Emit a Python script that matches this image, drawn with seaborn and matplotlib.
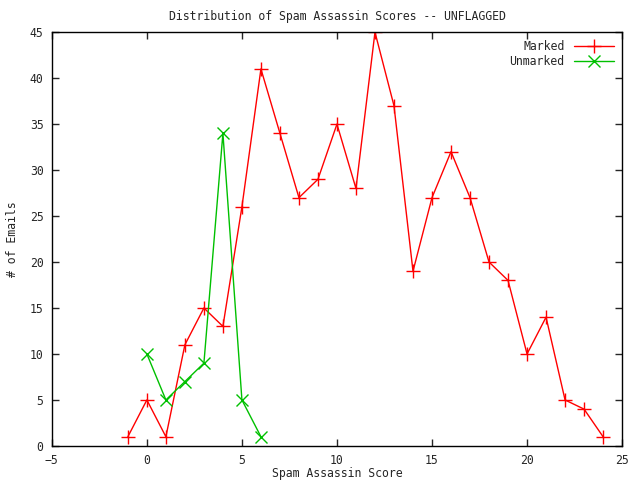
import matplotlib
matplotlib.use("Agg")
import matplotlib.pyplot as plt
import seaborn as sns
import pandas as pd

marked_x = [-1, 0, 1, 2, 3, 4, 5, 6, 7, 8, 9, 10, 11, 12, 13, 14, 15, 16, 17, 18, 19, 20, 21, 22, 23, 24]
marked_y = [1, 5, 1, 11, 15, 13, 26, 41, 34, 27, 29, 35, 28, 45, 37, 19, 27, 32, 27, 20, 18, 10, 14, 5, 4, 1]
unmarked_x = [0, 1, 2, 3, 4, 5, 6]
unmarked_y = [10, 5, 7, 9, 34, 5, 1]

x_ticks = [-5, 0, 5, 10, 15, 20, 25]
y_ticks = [0, 5, 10, 15, 20, 25, 30, 35, 40, 45]

sns.set_style("ticks")
plt.rcParams['font.family'] = ['DejaVu Sans Mono']

df_m = pd.DataFrame({"score": marked_x, "count": marked_y})
df_u = pd.DataFrame({"score": unmarked_x, "count": unmarked_y})

fig = plt.figure(figsize=(6.4, 4.8), dpi=100)
ax = fig.add_axes([0.081, 0.071, 0.891, 0.862])

sns.lineplot(data=df_m, x="score", y="count", ax=ax, color="#ff0000", linewidth=1,
             marker="+", markersize=9.5, markeredgewidth=1, markeredgecolor="#ff0000",
             label="Marked")
sns.lineplot(data=df_u, x="score", y="count", ax=ax, color="#00c000", linewidth=1,
             marker="x", markersize=8.5, markeredgewidth=1, markeredgecolor="#00c000",
             label="Unmarked")

ax.set_xlim(-5, 25)
ax.set_ylim(0, 45)
ax.set_xticks(x_ticks)
ax.set_yticks(y_ticks)
ax.tick_params(direction="in", top=True, right=True, labelsize=8.3, length=5, width=1)
ax.tick_params(axis="x", pad=6)
ax.tick_params(axis="y", pad=6)
for s in ax.spines.values():
    s.set_visible(True)
    s.set_linewidth(1)
    s.set_color("black")
ax.set_xlabel("Spam Assassin Score", fontsize=8.3, labelpad=0)
ax.set_ylabel("# of Emails", fontsize=8.3, labelpad=8)
ax.set_title("Distribution of Spam Assassin Scores -- UNFLAGGED", fontsize=8.3, pad=9)
leg = ax.legend(loc="upper right", frameon=False, markerfirst=False, fontsize=8.3,
                handlelength=3.5, borderaxespad=0.3, labelspacing=0.15)
for t in leg.get_texts():
    t.set_ha("right")

fig.savefig("out.png", dpi=100)
